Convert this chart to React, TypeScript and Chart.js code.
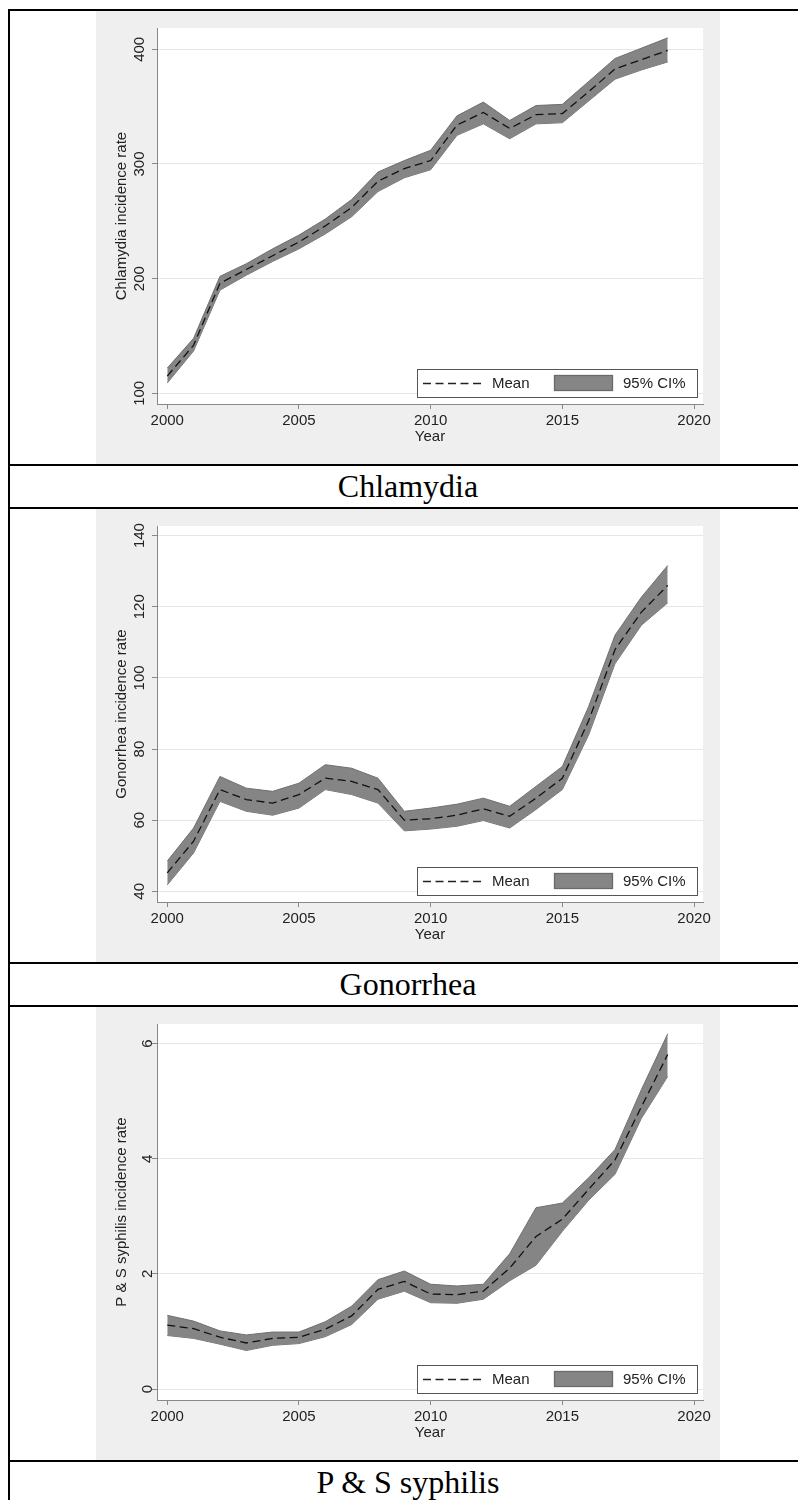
import React, { useEffect, useRef } from 'react';
import { Chart, registerables } from 'chart.js';

Chart.register(...registerables);

const YEARS = [2000, 2001, 2002, 2003, 2004, 2005, 2006, 2007, 2008, 2009, 2010, 2011, 2012, 2013, 2014, 2015, 2016, 2017, 2018, 2019];
const X_TICKS = [2000, 2005, 2010, 2015, 2020];
const X_TITLE = 'Year';
const LEGEND_LABELS = ['Mean', '95% CI%'];

const CHLAMYDIA_MEAN = [115, 142, 196, 208, 220, 232, 246, 262, 285, 296, 303, 334, 345, 331, 343, 344, 363, 383, 391, 399];
const CHLAMYDIA_LO = [109, 137, 190, 203, 215, 226, 239, 254, 276, 288, 295, 325, 335, 322, 335, 336, 355, 374, 382, 389];
const CHLAMYDIA_HI = [122, 148, 202, 213, 226, 238, 252, 269, 293, 303, 312, 342, 354, 338, 351, 352, 372, 392, 401, 410];
const CHLAMYDIA_Y_TICKS = [100, 200, 300, 400];

const GONORRHEA_MEAN = [45.2, 54.1, 68.6, 65.8, 64.8, 67.2, 71.8, 70.9, 68.6, 60.0, 60.4, 61.4, 63.2, 61.1, 66.2, 71.8, 88, 108, 118.5, 126];
const GONORRHEA_LO = [41.8, 50.8, 65.3, 62.5, 61.4, 63.4, 68.6, 67.2, 64.8, 57.0, 57.5, 58.3, 59.9, 57.8, 63.0, 68.6, 84, 104, 114.8, 121.1];
const GONORRHEA_HI = [48.5, 57.8, 72.3, 69.0, 68.1, 70.4, 75.6, 74.6, 71.8, 62.5, 63.4, 64.5, 66.2, 63.9, 69.5, 75.1, 92, 112, 122.7, 131.6];
const GONORRHEA_Y_TICKS = [40, 60, 80, 100, 120, 140];

const SYPHILIS_MEAN = [1.11, 1.05, 0.90, 0.80, 0.88, 0.90, 1.04, 1.27, 1.73, 1.87, 1.65, 1.64, 1.70, 2.10, 2.65, 2.95, 3.47, 3.98, 4.90, 5.81];
const SYPHILIS_LO = [0.93, 0.88, 0.78, 0.67, 0.76, 0.79, 0.91, 1.12, 1.56, 1.70, 1.50, 1.49, 1.56, 1.88, 2.15, 2.74, 3.28, 3.73, 4.70, 5.43];
const SYPHILIS_HI = [1.28, 1.18, 1.01, 0.94, 0.99, 0.99, 1.17, 1.44, 1.90, 2.05, 1.82, 1.79, 1.82, 2.35, 3.15, 3.23, 3.67, 4.16, 5.20, 6.17];
const SYPHILIS_Y_TICKS = [0, 2, 4, 6];

const SANS = '"Liberation Sans", Arial, sans-serif';
const SERIF = '"Liberation Serif", "Times New Roman", serif';

const stataPlugin = {
  id: 'stataLook',
  beforeDraw(chart: any) {
    const { ctx, chartArea: a, width, height } = chart;
    ctx.save();
    ctx.fillStyle = '#efefef';
    ctx.fillRect(0, 0, width, height);
    ctx.fillStyle = '#ffffff';
    ctx.fillRect(a.left, a.top, a.right - a.left, a.bottom - a.top);
    ctx.restore();
  },
  afterDraw(chart: any) {
    const { ctx, chartArea: a } = chart;
    const w = 281;
    const h = 29;
    const x0 = Math.round(a.right - 5 - w);
    const y0 = Math.round(a.bottom - 6 - h);
    const cy = y0 + h / 2;
    ctx.save();
    ctx.fillStyle = '#ffffff';
    ctx.fillRect(x0, y0, w, h);
    ctx.strokeStyle = '#555555';
    ctx.lineWidth = 1;
    ctx.strokeRect(x0 + 0.5, y0 + 0.5, w - 1, h - 1);
    ctx.strokeStyle = '#222222';
    ctx.lineWidth = 1.3;
    ctx.setLineDash([8, 4.5]);
    ctx.beginPath();
    ctx.moveTo(x0 + 6, cy);
    ctx.lineTo(x0 + 65, cy);
    ctx.stroke();
    ctx.setLineDash([]);
    ctx.font = '15px ' + SANS;
    ctx.fillStyle = '#222222';
    ctx.textBaseline = 'middle';
    ctx.textAlign = 'left';
    ctx.fillText(LEGEND_LABELS[0], x0 + 75, cy);
    ctx.fillStyle = '#858585';
    ctx.fillRect(x0 + 137, y0 + 6, 59, 16);
    ctx.strokeStyle = '#6a6a6a';
    ctx.strokeRect(x0 + 137.5, y0 + 6.5, 58, 15);
    ctx.fillStyle = '#222222';
    ctx.fillText(LEGEND_LABELS[1], x0 + 206, cy);
    ctx.restore();
  },
};

type Props = {
  mean: number[];
  lo: number[];
  hi: number[];
  yTicks: number[];
  yMin: number;
  yMax: number;
  yTitle: string;
};

function StataChart({ mean, lo, hi, yTicks, yMin, yMax, yTitle }: Props) {
  const ref = useRef<HTMLCanvasElement>(null);
  useEffect(() => {
    const pts = (arr: number[]) => YEARS.map((x, i) => ({ x, y: arr[i] }));
    const chart = new Chart(ref.current as HTMLCanvasElement, {
      type: 'line',
      data: {
        datasets: [
          {
            label: LEGEND_LABELS[0],
            data: pts(mean),
            borderColor: '#111111',
            borderWidth: 1.3,
            borderDash: [8, 4.5],
            fill: false,
            pointRadius: 0,
            tension: 0,
          },
          {
            label: LEGEND_LABELS[1],
            data: pts(hi),
            borderColor: '#707070',
            borderWidth: 1,
            backgroundColor: '#858585',
            fill: '+1',
            pointRadius: 0,
            tension: 0,
          },
          {
            label: 'lower',
            data: pts(lo),
            borderColor: '#707070',
            borderWidth: 1,
            backgroundColor: '#858585',
            fill: false,
            pointRadius: 0,
            tension: 0,
          },
        ],
      },
      options: {
        animation: false,
        responsive: false,
        maintainAspectRatio: false,
        events: [],
        layout: { padding: { left: 0, top: 17, right: 17, bottom: 0 } },
        plugins: {
          legend: { display: false },
          tooltip: { enabled: false },
        },
        scales: {
          x: {
            type: 'linear',
            min: 1999.61,
            max: 2020.34,
            afterBuildTicks: (s: any) => {
              s.ticks = X_TICKS.map((v) => ({ value: v }));
            },
            afterFit: (s: any) => {
              s.height = 60;
            },
            grid: {
              display: true,
              drawOnChartArea: false,
              drawTicks: true,
              tickLength: 5,
              tickColor: '#888888',
              color: '#888888',
            },
            border: { display: true, color: '#888888', width: 1 },
            ticks: {
              autoSkip: false,
              maxRotation: 0,
              minRotation: 0,
              padding: 3,
              color: '#222222',
              font: { family: SANS, size: 15 },
              callback: (v: any) => String(v),
            },
            title: {
              display: true,
              text: X_TITLE,
              color: '#222222',
              font: { family: SANS, size: 15 },
              padding: { top: 0, bottom: 18 },
            },
          },
          y: {
            type: 'linear',
            min: yMin,
            max: yMax,
            afterBuildTicks: (s: any) => {
              s.ticks = yTicks.map((v) => ({ value: v }));
            },
            afterFit: (s: any) => {
              s.width = 61;
            },
            grid: {
              color: '#e6e6e6',
              tickColor: '#888888',
              tickLength: 5,
              drawTicks: true,
            },
            border: { display: true, color: '#888888', width: 1 },
            ticks: {
              autoSkip: false,
              minRotation: 90,
              maxRotation: 90,
              crossAlign: 'center',
              padding: 0,
              color: '#222222',
              font: { family: SANS, size: 15 },
              callback: (v: any) => String(v),
            },
            title: {
              display: true,
              text: yTitle,
              color: '#222222',
              font: { family: SANS, size: 15 },
              padding: { top: 17, bottom: 0 },
            },
          },
        },
      },
      plugins: [stataPlugin],
    } as any);
    return () => chart.destroy();
  }, []);
  return (
    <canvas
      ref={ref}
      width={624}
      height={453}
      style={{ display: 'block', margin: '0 auto', width: 624, height: 453 }}
    />
  );
}

const cellBorder = '2px solid #000';

function Caption({ text }: { text: string }) {
  return (
    <tr>
      <td
        style={{
          border: cellBorder,
          padding: 0,
          height: 41,
          lineHeight: '41px',
          textAlign: 'center',
          fontFamily: SERIF,
          fontSize: 32,
          color: '#000',
        }}
      >
        {text}
      </td>
    </tr>
  );
}

function ImageRow(props: Props) {
  return (
    <tr>
      <td style={{ border: cellBorder, padding: 0, verticalAlign: 'top' }}>
        <StataChart {...props} />
      </td>
    </tr>
  );
}

export default function App() {
  return (
    <div style={{ position: 'absolute', left: 0, top: 0, width: 798, overflow: 'hidden' }}>
      <table
        style={{
          borderCollapse: 'collapse',
          width: 800,
          margin: '9px 0 0 8px',
          tableLayout: 'fixed',
        }}
      >
        <tbody>
          <ImageRow
            mean={CHLAMYDIA_MEAN}
            lo={CHLAMYDIA_LO}
            hi={CHLAMYDIA_HI}
            yTicks={CHLAMYDIA_Y_TICKS}
            yMin={90.7}
            yMax={418.6}
            yTitle="Chlamydia incidence rate"
          />
          <Caption text="Chlamydia" />
          <ImageRow
            mean={GONORRHEA_MEAN}
            lo={GONORRHEA_LO}
            hi={GONORRHEA_HI}
            yTicks={GONORRHEA_Y_TICKS}
            yMin={37.0}
            yMax={142.7}
            yTitle="Gonorrhea incidence rate"
          />
          <Caption text="Gonorrhea" />
          <ImageRow
            mean={SYPHILIS_MEAN}
            lo={SYPHILIS_LO}
            hi={SYPHILIS_HI}
            yTicks={SYPHILIS_Y_TICKS}
            yMin={-0.19}
            yMax={6.34}
            yTitle="P & S syphilis incidence rate"
          />
          <Caption text="P & S syphilis" />
        </tbody>
      </table>
    </div>
  );
}
